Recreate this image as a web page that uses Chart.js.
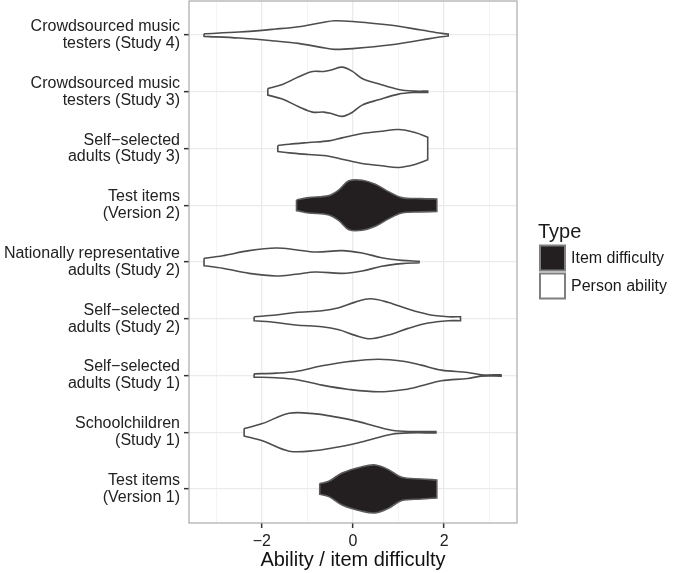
<!DOCTYPE html>
<html>
<head>
<meta charset="utf-8">
<script src="https://cdn.jsdelivr.net/npm/chart.js@4"></script>
<style>
  html, body { margin: 0; padding: 0; background: #fff; }
  #wrap { width: 675px; height: 573px; }
</style>
</head>
<body>
<div id="wrap"><canvas id="chart"></canvas></div>
<script>
// Categories, bottom to top
const categories = [
  ['Test items', '(Version 1)'],
  ['Schoolchildren', '(Study 1)'],
  ['Self\u2212selected', 'adults (Study 1)'],
  ['Self\u2212selected', 'adults (Study 2)'],
  ['Nationally representative', 'adults (Study 2)'],
  ['Test items', '(Version 2)'],
  ['Self\u2212selected', 'adults (Study 3)'],
  ['Crowdsourced music', 'testers (Study 3)'],
  ['Crowdsourced music', 'testers (Study 4)']
];
const typeNames = ['Item difficulty', 'Person ability'];
const categoryType = [0, 1, 1, 1, 1, 0, 1, 1, 1];

// Violin profiles: [ability, half width of density]
const itemsV1 = [[-0.73, 0.094], [-0.53, 0.135], [-0.24, 0.282], [0.2, 0.393], [0.49, 0.422], [0.78, 0.34], [1.07, 0.205], [1.5, 0.176], [1.84, 0.158]];
const schoolS1 = [[-2.39, 0.065], [-1.99, 0.152], [-1.4, 0.334], [-0.82, 0.323], [-0.39, 0.27], [0.05, 0.2], [0.49, 0.106], [0.85, 0.035], [1.21, 0.012], [1.82, 0.012]];
const selfS1 = [[-2.17, 0.029], [-1.69, 0.041], [-1.26, 0.07], [-0.68, 0.17], [-0.09, 0.246], [0.56, 0.287], [1.14, 0.246], [1.5, 0.182], [1.94, 0.094], [2.52, 0.053], [2.81, 0.012], [3.25, 0.012]];
const selfS2 = [[-2.17, 0.035], [-1.69, 0.065], [-1.26, 0.111], [-0.68, 0.141], [-0.31, 0.194], [0.05, 0.293], [0.38, 0.352], [0.78, 0.287], [1.21, 0.17], [1.65, 0.076], [2.09, 0.035], [2.36, 0.035]];
const nationalS2 = [[-3.27, 0.065], [-2.86, 0.111], [-2.28, 0.2], [-1.69, 0.246], [-1.26, 0.217], [-0.82, 0.176], [-0.24, 0.2], [0.2, 0.158], [0.63, 0.076], [1.07, 0.029], [1.45, 0.012]];
const itemsV2 = [[-1.24, 0.094], [-0.97, 0.135], [-0.53, 0.17], [-0.31, 0.27], [-0.09, 0.43], [0.2, 0.44], [0.49, 0.37], [0.78, 0.24], [1.07, 0.135], [1.5, 0.117], [1.84, 0.111]];
const selfS3 = [[-1.65, 0.053], [-1.4, 0.076], [-0.97, 0.106], [-0.53, 0.135], [-0.24, 0.188], [0.2, 0.264], [0.63, 0.305], [1.0, 0.334], [1.36, 0.282], [1.64, 0.2]];
const crowdS3 = [[-1.87, 0.059], [-1.55, 0.129], [-1.19, 0.264], [-0.89, 0.358], [-0.64, 0.358], [-0.46, 0.387], [-0.24, 0.434], [-0.02, 0.364], [0.2, 0.235], [0.56, 0.141], [1.0, 0.041], [1.36, 0.012], [1.64, 0.012]];
const crowdS4 = [[-3.27, 0.023], [-2.5, 0.053], [-1.7, 0.106], [-1.2, 0.147], [-0.7, 0.217], [-0.4, 0.252], [0.05, 0.235], [0.8, 0.176], [1.5, 0.088], [1.95, 0.029], [2.09, 0.018]];

const violins = [itemsV1, schoolS1, selfS1, selfS2, nationalS2, itemsV2, selfS3, crowdS3, crowdS4];

const xTicks = [-3, -2, -1, 0, 1, 2, 3];

const fillColors = ['#231f20', '#ffffff'];
const edgeColors = ['#5c5c5c', '#4d4d4d'];

// closed outline of one violin, corners doubled so they stay sharp
function outline(profile, c) {
  const top = profile.map(([x, w]) => ({ x: x, y: c + w }));
  const bottom = profile.map(([x, w]) => ({ x: x, y: c - w })).reverse();
  return [top[0], ...top, top[top.length - 1],
          bottom[0], ...bottom, bottom[bottom.length - 1],
          top[0], top[0]];
}

const datasets = violins.map((profile, i) => ({
  label: categories[i].join(' '),
  data: outline(profile, i + 1),
  showLine: true,
  fill: 'shape',
  tension: 0.35,
  backgroundColor: fillColors[categoryType[i]],
  borderColor: edgeColors[categoryType[i]],
  borderWidth: 1.6,
  pointRadius: 0,
  pointHoverRadius: 0
}));

const panelAndLegend = {
  id: 'panelAndLegend',
  afterDraw(chart) {
    const ctx = chart.ctx;
    const a = chart.chartArea;
    ctx.save();
    ctx.strokeStyle = '#aaaaaa';
    ctx.lineWidth = 1.2;
    ctx.strokeRect(a.left, a.top, a.right - a.left, a.bottom - a.top);

    // legend
    ctx.textAlign = 'left';
    ctx.textBaseline = 'middle';
    ctx.fillStyle = '#1a1a1a';
    ctx.font = '20px "Liberation Sans", Arial, sans-serif';
    ctx.fillText('Type', 538, 232);
    ctx.font = '16px "Liberation Sans", Arial, sans-serif';
    typeNames.forEach((name, k) => {
      const y = 245.5 + k * 28;
      ctx.fillStyle = fillColors[k];
      ctx.fillRect(540, y, 25, 25);
      ctx.strokeStyle = '#7f7f7f';
      ctx.lineWidth = 2;
      ctx.strokeRect(540, y, 25, 25);
      ctx.fillStyle = '#1a1a1a';
      ctx.fillText(name, 571, y + 13);
    });
    ctx.restore();
  }
};

new Chart(document.getElementById('chart'), {
  type: 'scatter',
  data: { datasets: datasets },
  plugins: [panelAndLegend],
  options: {
    responsive: true,
    maintainAspectRatio: false,
    animation: false,
    events: [],
    layout: { padding: { left: 0, right: 158, top: 1, bottom: 0 } },
    plugins: {
      legend: { display: false },
      tooltip: { enabled: false }
    },
    scales: {
      x: {
        type: 'linear',
        min: -3.6,
        max: 3.6,
        afterBuildTicks: (scale) => { scale.ticks = xTicks.map(v => ({ value: v })); },
        afterFit: (scale) => { scale.height = 50; scale.paddingLeft = 0; scale.paddingRight = 0; },
        border: { display: false },
        grid: {
          color: (c) => (c.tick && c.tick.value % 2 === 0) ? '#ebebeb' : '#f4f4f4',
          lineWidth: (c) => (c.tick && c.tick.value % 2 === 0) ? 1.3 : 1,
          tickColor: (c) => (c.tick && c.tick.value % 2 === 0) ? '#333333' : 'rgba(0,0,0,0)',
          tickLength: 5,
          tickWidth: 1.5
        },
        ticks: {
          autoSkip: false,
          maxRotation: 0,
          padding: 4,
          color: '#222222',
          font: { family: '"Liberation Sans", Arial, sans-serif', size: 16 },
          callback: (v) => v % 2 === 0 ? (v < 0 ? '\u2212' + Math.abs(v) : String(v)) : ''
        },
        title: {
          display: true,
          text: 'Ability / item difficulty',
          color: '#111111',
          font: { family: '"Liberation Sans", Arial, sans-serif', size: 20 },
          padding: { top: 0, bottom: 1 }
        }
      },
      y: {
        type: 'linear',
        min: 0.4,
        max: 9.6,
        afterBuildTicks: (scale) => { scale.ticks = categories.map((c, i) => ({ value: i + 1 })); },
        afterFit: (scale) => { scale.width = 189; scale.paddingTop = 0; scale.paddingBottom = 0; },
        border: { display: false },
        grid: {
          color: '#ebebeb',
          lineWidth: 1.3,
          tickColor: '#333333',
          tickLength: 5,
          tickWidth: 1.5
        },
        ticks: {
          autoSkip: false,
          padding: 4,
          color: '#222222',
          font: { family: '"Liberation Sans", Arial, sans-serif', size: 16, lineHeight: 1.05 },
          callback: (v) => categories[v - 1]
        }
      }
    }
  }
});
</script>
</body>
</html>
